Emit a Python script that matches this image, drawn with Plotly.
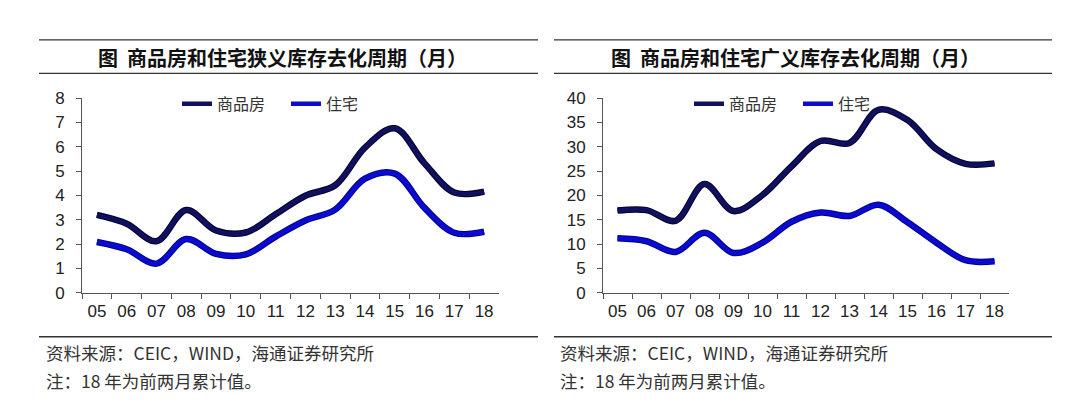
import plotly.graph_objects as go

# categories (years)
years = ["05", "06", "07", "08", "09", "10", "11", "12", "13", "14", "15", "16", "17", "18"]

# narrow inventory clearing cycle (months)
narrow_commercial = [3.2, 2.84, 2.12, 3.4, 2.56, 2.48, 3.23, 3.99, 4.42, 5.97, 6.76, 5.32, 4.12, 4.16]
narrow_housing = [2.09, 1.79, 1.2, 2.21, 1.6, 1.58, 2.31, 2.97, 3.42, 4.69, 4.9, 3.49, 2.47, 2.51]

# broad inventory clearing cycle (months)
broad_commercial = [16.9, 17.0, 14.8, 22.35, 16.8, 20.1, 26.0, 31.2, 30.8, 37.6, 35.5, 29.5, 26.5, 26.6]
broad_housing = [11.2, 10.6, 8.4, 12.35, 8.2, 10.3, 14.6, 16.5, 15.8, 18.1, 14.5, 10.3, 6.7, 6.5]

titles = ["图  商品房和住宅狭义库存去化周期（月）", "图  商品房和住宅广义库存去化周期（月）"]
source = "资料来源：CEIC，WIND，海通证券研究所"
note = "注：18 年为前两月累计值。"

W, H = 1080, 417
CJK = "Noto Sans CJK SC"
NUM = "Liberation Sans"

NAVY, NAVY_EDGE = "#10105e", "#000030"
BLUE, BLUE_EDGE = "#0a0ad0", "#00008a"

fig = go.Figure()

panels = [
    dict(xa="x", ya="y", leg="legend", c=narrow_commercial, h=narrow_housing),
    dict(xa="x2", ya="y2", leg="legend2", c=broad_commercial, h=broad_housing),
]

for p in panels:
    for vals, name, col, edge in [(p["c"], "商品房", NAVY, NAVY_EDGE), (p["h"], "住宅", BLUE, BLUE_EDGE)]:
        # dark outline underneath
        fig.add_trace(go.Scatter(x=years, y=vals, mode="lines", xaxis=p["xa"], yaxis=p["ya"],
                                 line=dict(color=edge, width=6.5, shape="spline", smoothing=1.0),
                                 showlegend=False, hoverinfo="skip"))
        fig.add_trace(go.Scatter(x=years, y=vals, mode="lines", name=name, xaxis=p["xa"], yaxis=p["ya"],
                                 legend=p["leg"],
                                 line=dict(color=col, width=4.5, shape="spline", smoothing=1.0)))

def px_x(v):
    return v / W

def px_y(v):
    return 1 - v / H

ytop, ybot = 85, 289

common_x = dict(type="category", range=[-0.5, 13.5], showgrid=False, zeroline=False,
                showline=True, linecolor="#555555", linewidth=1,
                ticks="outside", ticklen=5, tickcolor="#555555", tickson="boundaries",
                tickfont=dict(family=NUM, size=17, color="#222222"), ticklabelstandoff=3)
common_y = dict(showgrid=False, zeroline=False, showline=True, linecolor="#555555", linewidth=1,
                ticks="outside", ticklen=5, tickcolor="#555555",
                tickfont=dict(family=NUM, size=17, color="#222222"), ticklabelstandoff=8)

legend_style = dict(orientation="h", xanchor="left", yanchor="middle",
                    font=dict(family=CJK, size=16, color="#333333"), bgcolor="rgba(0,0,0,0)",
                    itemwidth=30, entrywidth=64, entrywidthmode="pixels")

fig.update_layout(
    width=W, height=H,
    margin=dict(l=0, r=0, t=0, b=0),
    paper_bgcolor="white", plot_bgcolor="white",
    xaxis=dict(common_x, domain=[px_x(74), px_x(491)], anchor="y"),
    yaxis=dict(common_y, domain=[px_y(ybot), px_y(ytop)], anchor="x", range=[0, 8], dtick=1),
    xaxis2=dict(common_x, domain=[px_x(595), px_x(1001)], anchor="y2"),
    yaxis2=dict(common_y, domain=[px_y(ybot), px_y(ytop)], anchor="x2", range=[0, 40], dtick=5),
    legend=dict(legend_style, x=px_x(169), y=px_y(91)),
    legend2=dict(legend_style, x=px_x(681), y=px_y(91)),
    showlegend=True,
)

# title rules, titles, bottom rules and notes for both panels
for (x0, x1, tx, nx), title in zip([(31, 530, 274, 36), (546, 1044, 787, 550)], titles):
    for yy in (24, 59, 335):
        fig.add_shape(type="line", xref="paper", yref="paper",
                      x0=px_x(x0), x1=px_x(x1), y0=px_y(yy), y1=px_y(yy),
                      line=dict(color="#333333", width=1.3))
    fig.add_annotation(text="<b>" + title + "</b>", xref="paper", yref="paper",
                       x=px_x(tx), y=px_y(42), xanchor="center", yanchor="middle", showarrow=False,
                       font=dict(family=CJK, size=20, color="#111111"))
    fig.add_annotation(text=source, xref="paper", yref="paper",
                       x=px_x(nx), y=px_y(352), xanchor="left", yanchor="middle", showarrow=False,
                       font=dict(family=CJK, size=17.5, color="#333333"))
    fig.add_annotation(text=note, xref="paper", yref="paper",
                       x=px_x(nx), y=px_y(381), xanchor="left", yanchor="middle", showarrow=False,
                       font=dict(family=CJK, size=17.5, color="#333333"))

fig.write_html("out.html")
